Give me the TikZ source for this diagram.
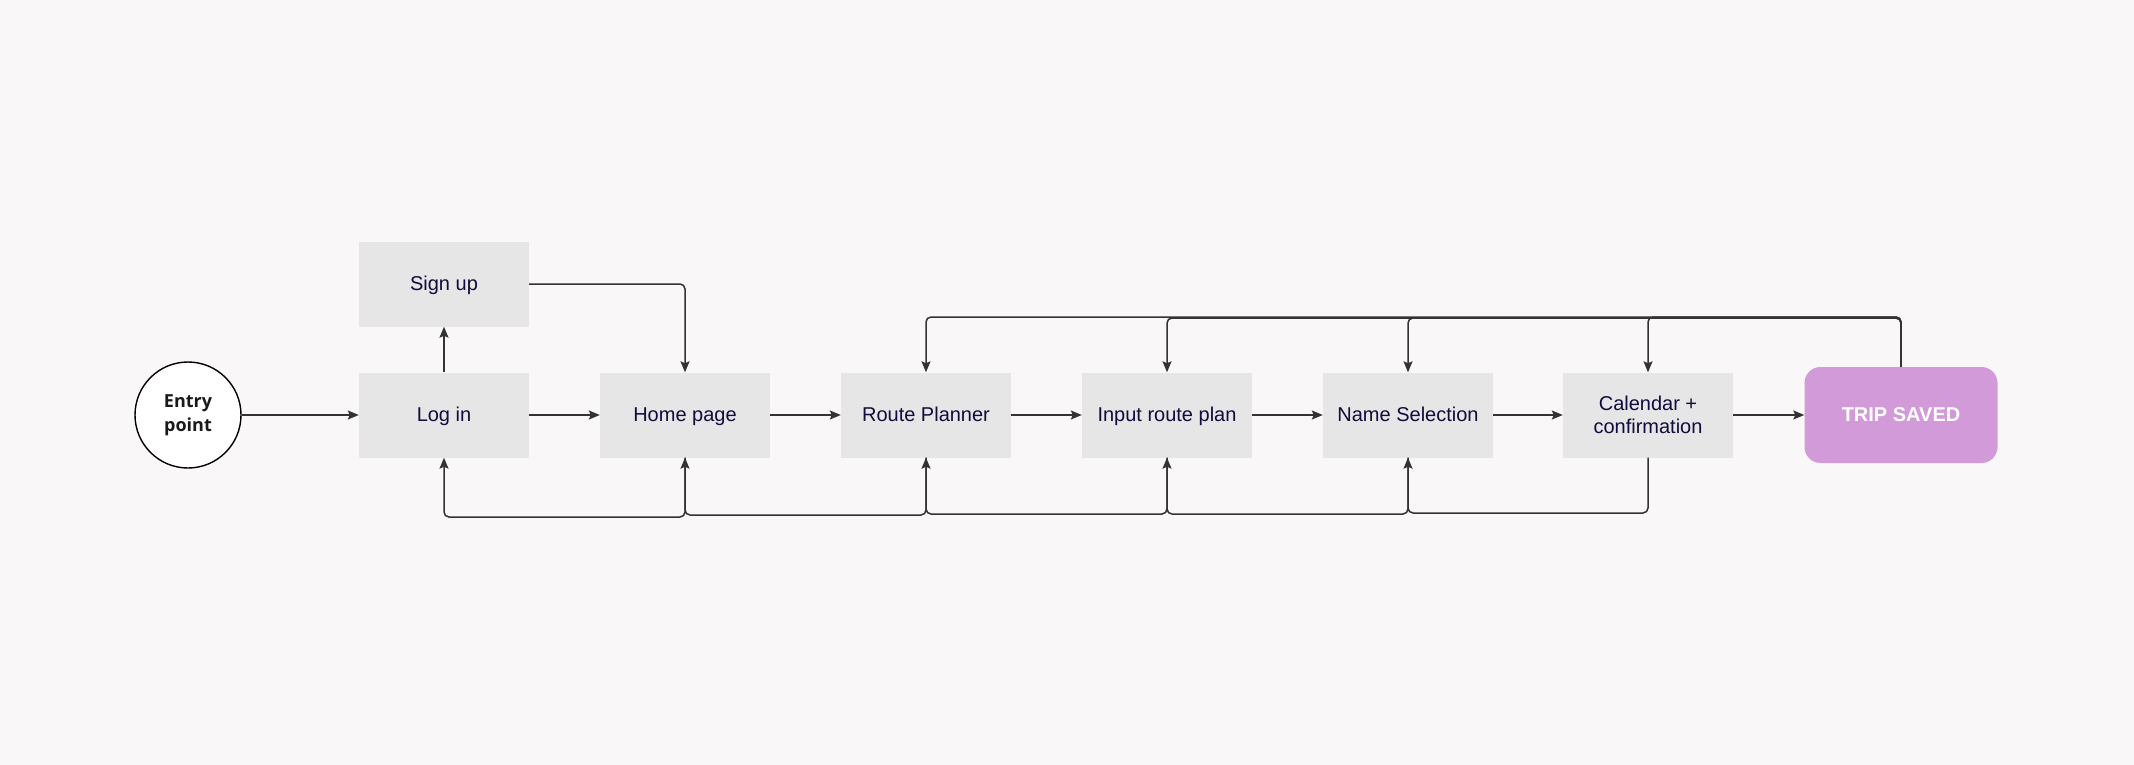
\documentclass[tikz,border=0pt]{standalone}
\usepackage{fontspec}
\setmainfont{Liberation Sans}
\newfontfamily\entryfont{Open Sans}
\usetikzlibrary{arrows.meta}
\definecolor{bg}{HTML}{FAF7F8}
\definecolor{boxgray}{HTML}{E6E6E6}
\definecolor{navy}{HTML}{100C3C}
\definecolor{linegray}{HTML}{333333}
\definecolor{tripfill}{HTML}{D29AD8}
\begin{document}
\begin{tikzpicture}[x=1pt,y=-1pt,
  stepbox/.style={rectangle, fill=boxgray, minimum width=170pt, minimum height=85pt, inner sep=0pt,
    font=\fontsize{20}{23}\selectfont, text=navy, align=center},
  oneline/.style={text height=16.5pt, text depth=3.5pt},
  tripbox/.style={rectangle, rounded corners=16pt, fill=tripfill, minimum width=193pt, minimum height=96pt,
    inner sep=0pt, font=\fontsize{20}{23}\selectfont\bfseries, text=white, text height=16.5pt, text depth=3.5pt},
  entrynode/.style={circle, draw=black, line width=1.4pt, fill=white, minimum size=106pt, inner sep=0pt,
    font=\entryfont\bfseries\fontsize{18}{24}\selectfont, text=black!90, align=center},
  conn/.style={draw=linegray, line width=1.5pt, rounded corners=5pt, -{Stealth[length=11pt,width=9pt,inset=2pt]}},
]
\fill[bg] (0,0) rectangle (2134,765);
\useasboundingbox (0,0) rectangle (2134,765);

\node[entrynode] (entry) at (188,415) {Entry\\point};
\node[stepbox,oneline] (su) at (444,284) {Sign up};
\node[stepbox,oneline] (li) at (444,415) {Log in};
\node[stepbox,oneline] (hp) at (685,415) {Home page};
\node[stepbox,oneline] (rp) at (926,415) {Route Planner};
\node[stepbox,oneline] (ir) at (1167,415) {Input route plan};
\node[stepbox,oneline] (ns) at (1408,415) {Name Selection};
\node[stepbox] (cal) at (1648,415) {Calendar +\\confirmation};
\node[tripbox] (trip) at (1901,415) {TRIP SAVED};

% forward flow
\draw[conn] (entry) -- (li);
\draw[conn] (li) -- (su);
\draw[conn] (su.east) -| (hp.north);
\draw[conn] (li) -- (hp);
\draw[conn] (hp) -- (rp);
\draw[conn] (rp) -- (ir);
\draw[conn] (ir) -- (ns);
\draw[conn] (ns) -- (cal);
\draw[conn] (cal) -- (trip);

% back links along the bottom
\draw[conn] (cal.south) -- (cal.south |- 0,513) -- (ns.south |- 0,513) -- (ns.south);
\draw[conn] (ns.south) -- (ns.south |- 0,514) -- (ir.south |- 0,514) -- (ir.south);
\draw[conn] (ir.south) -- (ir.south |- 0,514) -- (rp.south |- 0,514) -- (rp.south);
\draw[conn] (rp.south) -- (rp.south |- 0,515) -- (hp.south |- 0,515) -- (hp.south);
\draw[conn] (hp.south) -- (hp.south |- 0,517) -- (li.south |- 0,517) -- (li.south);

% links from TRIP SAVED along the top
\draw[conn] (trip.north) -- (trip.north |- 0,317) -- (cal.north |- 0,317) -- (cal.north);
\draw[conn] (trip.north) -- (trip.north |- 0,318) -- (ns.north |- 0,318) -- (ns.north);
\draw[conn] (trip.north) -- (trip.north |- 0,318) -- (ir.north |- 0,318) -- (ir.north);
\draw[conn] (trip.north) -- (trip.north |- 0,317) -- (rp.north |- 0,317) -- (rp.north);
\end{tikzpicture}
\end{document}
